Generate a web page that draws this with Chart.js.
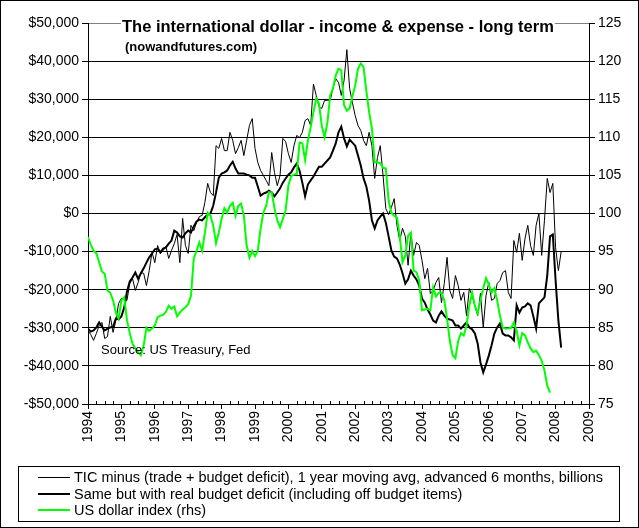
<!DOCTYPE html>
<html>
<head>
<meta charset="utf-8">
<script src="https://cdn.jsdelivr.net/npm/chart.js@4.4.1/dist/chart.umd.min.js"></script>
<style>
  html, body { margin: 0; padding: 0; background: #fff; }
  canvas { display: block; }
</style>
</head>
<body>
<canvas id="chart" width="639" height="528"></canvas>
<script>
// ── DATOS (mensuales desde ene-1994) ─────────────────────────────
const START_YEAR = 1994

// TIC minus (trade + budget deficit), 1 year moving avg, advanced 6 months
const ticMinus = [
  -30700, -31800, -33300, -31500, -29400, -28600, -32800, -32300, -27000, -31200, -28100, -23600,
  -22300, -22300, -22800, -18400, -17100, -20200, -18100, -15500, -15700, -18900, -15000, -10200,
  -12900, -8400, -10500, -9700, -8700, -11800, -9700, -7900, -5500, -12900, -1300, -8400,
  -10500, -3100, -4500, -2400, -800, -500, 2900, 7900, 5500, 4700, 17800, 17100,
  19700, 16500, 16500, 21300, 19200, 15700, 17300, 19200, 15200, 19200, 23100, 24900,
  17100, 13400, 11300, 10000, 8700, 7300, 16000, 10800, 7300, 10000, 19700, 18900,
  15700, 13400, 17800, 20500, 19900, 21300, 24400, 24900, 23100, 34000, 31000, 28000,
  27600, 29700, 29700, 29700, 32800, 35400, 34400, 31000, 34900, 43000, 32800, 29100,
  25700, 23100, 21800, 19200, 17800, 21300, 17800, 9200, 14700, 17800, 10000, 1300,
  -300, 1600, 3900, -3100, -7100, -3900, -6000, -13600, -5000, -11000, -7600, -8400,
  -12300, -17100, -14400, -21000, -20200, -18100, -16800, -23400, -18400, -11500, -20200, -22300,
  -16300, -18900, -22800, -20700, -26800, -19700, -21500, -24100, -26800, -21000, -29900, -21500,
  -18100, -22800, -22300, -18400, -17600, -15500, -15000, -20700, -22300, -7100, -10200, -5200,
  -12300, -6600, -3100, -8400, -11000, -3100, 0, -11000, -1800, 9200, 5500, 7900,
  -9000, -15000, -10000
]

// Same but with real budget deficit (including off budget items)
const realDeficit = [
  -30200, -31000, -30700, -29900, -28600, -29700, -30700, -30200, -29900, -29700, -27600, -27800,
  -27000, -24700, -20500, -17800, -16800, -15500, -17100, -15700, -14400, -12900, -11500, -10500,
  -9400, -9200, -10200, -9200, -8900, -7900, -7100, -4500, -5000, -6000, -6300, -5200,
  -4500, -5000, -3400, -2100, -1600, -1800, -1000, -300, 0, 2100, 5500, 9400,
  10500, 10800, 11300, 12600, 13600, 11800, 10500, 10500, 10500, 10200, 10000, 9400,
  9400, 7100, 4700, 5200, 5500, 6000, 5500, 4500, 5500, 6600, 8100, 9200,
  10200, 10800, 12100, 13100, 11300, 8100, 4500, 7600, 8700, 9700, 11000, 12300,
  12300, 13100, 13900, 14700, 16500, 18400, 21300, 22800, 19700, 17600, 19400, 18600,
  17800, 15200, 12600, 9200, 7100, 3400, -1800, -3900, -1800, -800, 0, -2400,
  -6000, -9700, -11300, -11800, -13400, -15700, -18400, -17300, -15000, -16300, -17300, -18900,
  -22300, -23400, -25200, -26500, -28100, -28600, -26800, -25700, -26800, -27600, -27800, -28100,
  -29400, -29400, -30200, -29400, -28600, -29900, -30400, -31500, -34100, -39100, -41700, -39600,
  -37300, -34600, -31500, -29900, -28900, -31500, -32000, -32000, -32500, -33300, -24100, -26000,
  -24700, -24400, -23600, -24100, -27000, -30200, -23600, -22800, -22000, -16300, -6000, -5500,
  -17600, -28100, -35200
]

// US dollar index (rhs)
const dollarIndex = [
  96.9, 95.9, 95.1, 94.8, 93.6, 92.4, 92.1, 89.9, 89.6, 88.6, 87.0, 86.2,
  88.6, 89.0, 86.0, 84.3, 82.9, 82.3, 81.8, 81.4, 82.7, 85.0, 84.6, 84.9,
  85.3, 86.4, 86.6, 86.7, 87.1, 87.9, 87.5, 87.8, 86.5, 87.0, 87.4, 87.7,
  88.1, 89.2, 94.1, 95.1, 96.2, 95.1, 97.5, 100.1, 99.7, 98.4, 96.1, 97.5,
  99.3, 100.7, 100.1, 101.0, 101.4, 99.7, 101.0, 101.3, 99.7, 95.8, 94.2, 95.1,
  94.4, 95.1, 98.0, 100.1, 101.0, 102.8, 102.8, 100.7, 99.1, 98.2, 99.3, 100.4,
  103.7, 104.9, 105.1, 105.2, 109.3, 109.2, 107.0, 109.6, 111.3, 113.3, 115.1, 114.4,
  111.5, 110.0, 111.9, 115.5, 116.4, 118.1, 119.0, 118.8, 114.2, 113.5, 113.8, 115.4,
  116.8, 119.0, 119.7, 119.2, 116.1, 113.3, 111.2, 106.7, 106.7, 106.6, 106.0, 105.9,
  101.7, 100.1, 99.7, 99.5, 97.1, 93.6, 94.5, 97.1, 97.5, 92.5, 92.3, 91.2,
  87.3, 87.4, 87.5, 87.3, 90.3, 89.1, 89.6, 89.6, 88.6, 86.2, 83.3, 81.4,
  81.0, 83.3, 84.3, 84.0, 85.3, 87.9, 89.6, 87.9, 86.9, 88.6, 90.2, 91.5,
  90.7, 89.6, 90.2, 88.6, 86.6, 85.0, 84.9, 84.9, 85.0, 85.7, 84.6, 82.7,
  84.3, 84.0, 83.1, 82.3, 81.8, 82.0, 81.4, 80.7, 79.4, 77.4, 76.5
]

const seriesNames = [
  'TIC minus (trade + budget deficit), 1 year moving avg, advanced 6 months, billions',
  'Same but with real budget deficit (including off budget items)',
  'US dollar index (rhs)'
]
const seriesColors = ['#000000', '#000000', '#00ff00']
const seriesWidths = [1, 2, 2]

const TITLE = 'The international dollar - income & expense - long term'
const SUBTITLE = '(nowandfutures.com)'
const SOURCE = 'Source: US Treasury, Fed'

const FONT = '"Liberation Sans", Arial, sans-serif'

const toPoints = arr => arr.map((v, i) => ({ x: START_YEAR + i / 12, y: v }))

function money(v) {
  const s = '$' + Math.abs(v).toLocaleString('en-US')
  return v < 0 ? '-' + s : s
}

// ── PLUGIN: marco, títulos, fuente, ticks menores y leyenda ──────
const decoraciones = {
  id: 'decoraciones',
  beforeDraw(chart) {
    const ctx = chart.ctx
    ctx.save()
    ctx.fillStyle = '#fff'
    ctx.fillRect(0, 0, chart.width, chart.height)
    ctx.restore()
  },
  afterDraw(chart) {
    const ctx = chart.ctx
    const { bottom } = chart.chartArea
    const xs = chart.scales.x
    ctx.save()

    // ticks menores (trimestres) hacia dentro
    ctx.strokeStyle = '#000'
    ctx.lineWidth = 1
    ctx.beginPath()
    for (let yr = START_YEAR; yr < 2009; yr++) {
      for (let q = 1; q < 4; q++) {
        const px = Math.round(xs.getPixelForValue(yr + q / 4)) + 0.5
        ctx.moveTo(px, bottom)
        ctx.lineTo(px, bottom - 3)
      }
    }
    ctx.stroke()

    // título con fondo blanco sobre el borde superior
    ctx.font = 'bold 16.5px ' + FONT
    ctx.textBaseline = 'alphabetic'
    ctx.textAlign = 'left'
    const tw = ctx.measureText(TITLE).width
    ctx.fillStyle = '#fff'
    ctx.fillRect(121, 14, tw + 2, 22)
    ctx.fillStyle = '#000'
    ctx.fillText(TITLE, 122, 32)

    ctx.font = 'bold 13px ' + FONT
    ctx.fillText(SUBTITLE, 125, 51)

    ctx.font = '13px ' + FONT
    ctx.fillText(SOURCE, 101, 354)

    // leyenda
    ctx.strokeStyle = '#000'
    ctx.lineWidth = 1
    ctx.strokeRect(18.5, 466.5, 601, 55)
    ctx.font = '14.5px ' + FONT
    ctx.textBaseline = 'middle'
    seriesNames.forEach((name, i) => {
      const y = 477 + i * 16.5
      const off = seriesWidths[i] % 2 ? 0.5 : 0
      ctx.strokeStyle = seriesColors[i]
      ctx.lineWidth = seriesWidths[i]
      ctx.beginPath()
      ctx.moveTo(38, Math.round(y) + off)
      ctx.lineTo(70, Math.round(y) + off)
      ctx.stroke()
      ctx.fillStyle = '#000'
      ctx.fillText(name, 74, y + 1)
    })

    // borde exterior
    ctx.strokeStyle = '#000'
    ctx.lineWidth = 1
    ctx.strokeRect(0.5, 0.5, chart.width - 1, chart.height - 1)
    ctx.restore()
  }
}

Chart.defaults.font.family = FONT
Chart.defaults.font.size = 14
Chart.defaults.color = '#000'

new Chart(document.getElementById('chart').getContext('2d'), {
  type: 'line',
  data: {
    datasets: [
      { label: seriesNames[0], data: toPoints(ticMinus), borderColor: seriesColors[0], borderWidth: seriesWidths[0], pointRadius: 0, yAxisID: 'y', order: 3 },
      { label: seriesNames[1], data: toPoints(realDeficit), borderColor: seriesColors[1], borderWidth: seriesWidths[1], pointRadius: 0, yAxisID: 'y', order: 2 },
      { label: seriesNames[2], data: toPoints(dollarIndex), borderColor: seriesColors[2], borderWidth: seriesWidths[2], pointRadius: 0, yAxisID: 'y2', order: 1 }
    ]
  },
  options: {
    responsive: false,
    animation: false,
    events: [],
    layout: { padding: { top: 23, left: 0, right: 0, bottom: 0 } },
    plugins: { legend: { display: false }, tooltip: { enabled: false }, title: { display: false } },
    scales: {
      x: {
        type: 'linear', position: 'bottom', min: 1994, max: 2009,
        ticks: { stepSize: 1, autoSkip: false, minRotation: 90, maxRotation: 90, padding: 2, callback: v => String(v) },
        grid: { drawOnChartArea: false, drawTicks: true, tickLength: 5, color: '#000' },
        border: { color: '#000' },
        afterFit: s => { s.height = 124 }
      },
      y: {
        position: 'left', min: -50000, max: 50000,
        ticks: { stepSize: 10000, padding: 3, callback: v => money(v) },
        grid: { color: c => (c.tick && c.tick.value === 50000 ? '#808080' : '#000'), tickColor: '#000', tickLength: 6 },
        border: { color: '#000' },
        afterFit: s => { s.width = 88 }
      },
      y2: {
        position: 'right', min: 75, max: 125,
        ticks: { stepSize: 5, padding: 3 },
        grid: { drawOnChartArea: false, tickLength: 6, color: '#000' },
        border: { color: '#000' },
        afterFit: s => { s.width = 50 }
      }
    }
  },
  plugins: [decoraciones]
})
</script>
</body>
</html>
